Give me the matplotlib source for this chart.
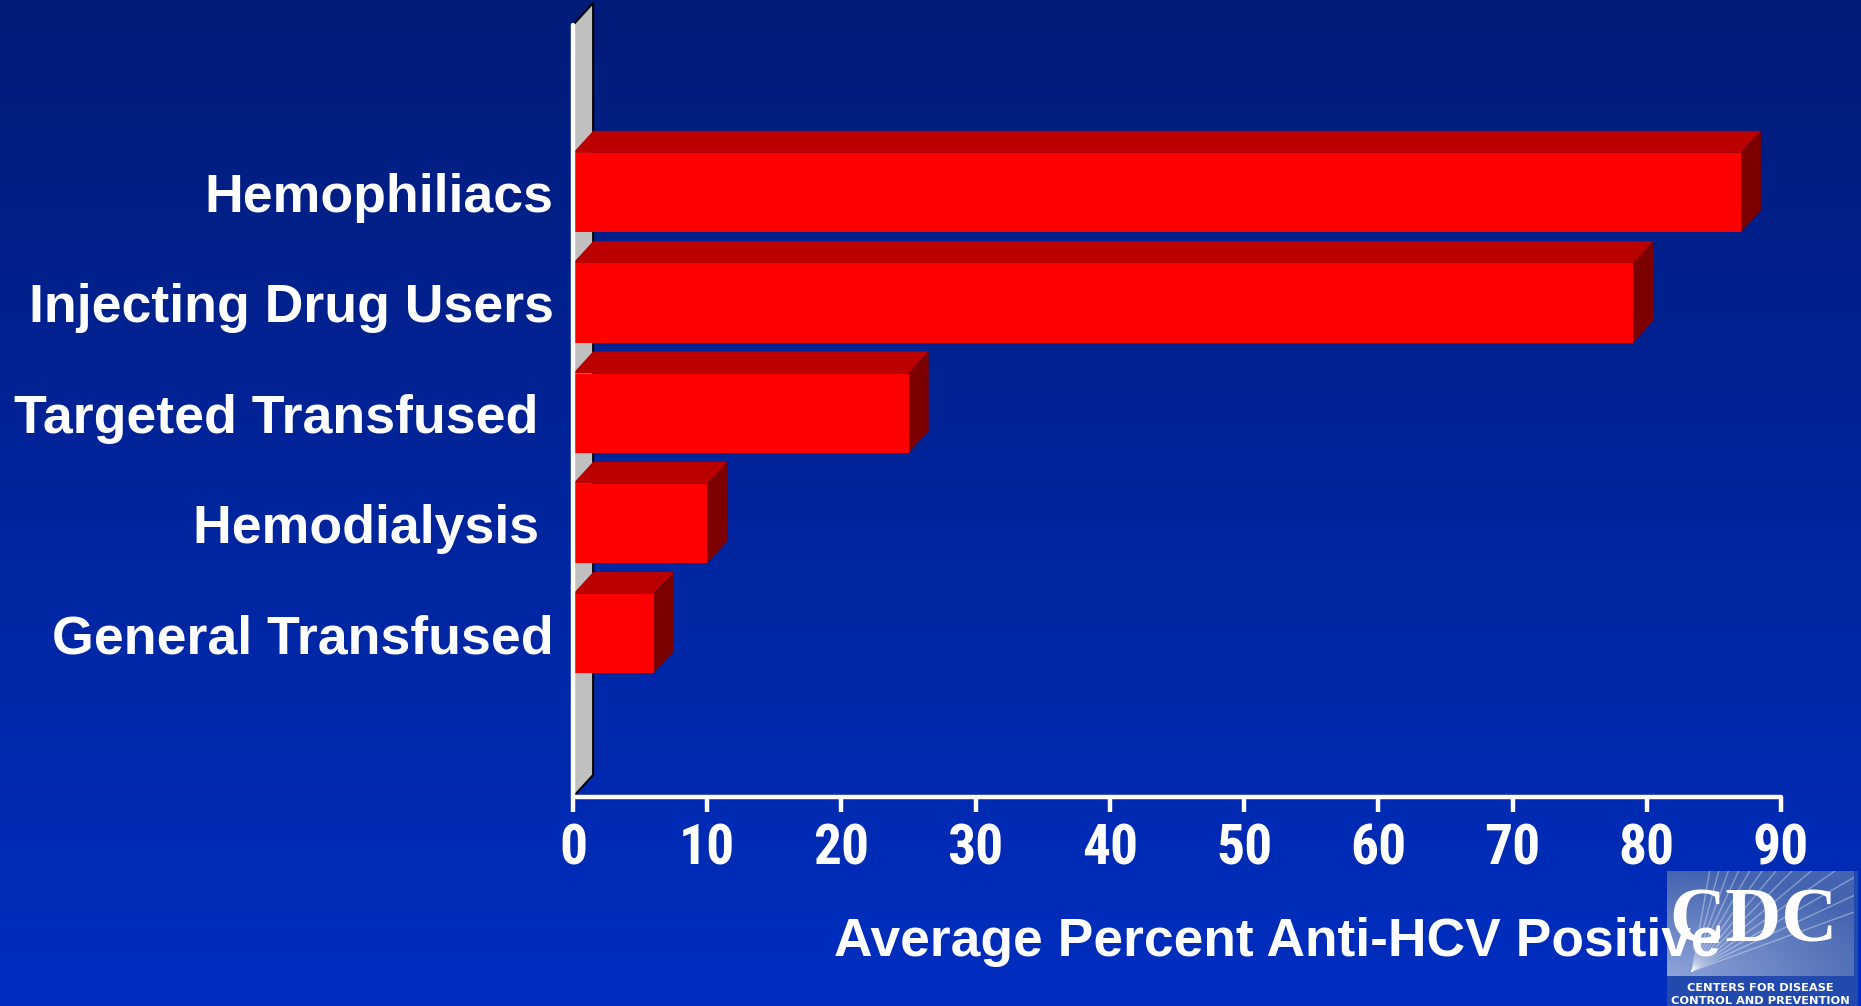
import numpy as np
import matplotlib
matplotlib.use("Agg")
import matplotlib.pyplot as plt
from matplotlib.patches import Polygon, Rectangle
from matplotlib.colors import LinearSegmentedColormap

# Anti-HCV prevalence by group
grupos = ["Hemophiliacs", "Injecting Drug Users", "Targeted Transfused ",
          "Hemodialysis ", "General Transfused"]
valores = [87, 79, 25, 10, 6]
ticks_x = [0, 10, 20, 30, 40, 50, 60, 70, 80, 90]
titulo_x = "Average Percent Anti-HCV Positive"

W, H = 1861, 1006
fig = plt.figure(figsize=(W / 100, H / 100), dpi=100)

# fundo em degradê azul
bg = fig.add_axes([0, 0, 1, 1], zorder=0)
grad = np.linspace(0, 1, 256).reshape(-1, 1)
cmap_bg = LinearSegmentedColormap.from_list("fundo", ["#001b78", "#002ec0"])
bg.imshow(grad, aspect="auto", cmap=cmap_bg, extent=[0, 1, 0, 1], origin="upper")
bg.set_axis_off()

# eixo principal
x0, x1 = 573, 1781
y_top, y_bot = 25, 797
ax = fig.add_axes([x0 / W, 1 - y_bot / H, (x1 - x0) / W, (y_bot - y_top) / H], zorder=2)
ax.patch.set_alpha(0)
ax.set_xlim(0, 90)
ax.set_ylim(5.48, -1.52)

dx, dy = 1.5, 0.2     # profundidade 3D
alt = 0.72
pos = np.arange(len(grupos))

# parede lateral cinza
yb, yt = ax.get_ylim()
parede = Polygon([(0, yb), (0, yt), (dx, yt - dy), (dx, yb - dy)], closed=True,
                 facecolor="#c0c0c0", edgecolor="none", zorder=1, clip_on=False)
ax.add_patch(parede)
ax.plot([0, dx, dx, 0], [yt, yt - dy, yb - dy, yb], color="black", lw=1.5,
        zorder=1.1, clip_on=False)

# barras com topo e lateral
ax.barh(pos, valores, height=alt, color="#ff0000", edgecolor="none", zorder=3)
for y, v in zip(pos, valores):
    topo = y - alt / 2
    base = y + alt / 2
    ax.add_patch(Polygon([(0, topo), (v, topo), (v + dx, topo - dy), (dx, topo - dy)],
                         facecolor="#bb0000", edgecolor="none", zorder=2.5, clip_on=False))
    ax.add_patch(Polygon([(v, topo), (v + dx, topo - dy), (v + dx, base - dy), (v, base)],
                         facecolor="#7c0000", edgecolor="none", zorder=2.5, clip_on=False))

# eixos e rótulos
for s in ["top", "right"]:
    ax.spines[s].set_visible(False)
for s in ["left", "bottom"]:
    ax.spines[s].set_color("white")
    ax.spines[s].set_linewidth(3.2)
    ax.spines[s].set_capstyle("round")
    ax.spines[s].set_zorder(4)

ax.set_yticks(pos)
ax.set_yticklabels(grupos, color="white", fontsize=38.6, fontweight="bold",
                   family=["Liberation Sans", "DejaVu Sans"])
ax.tick_params(axis="y", length=0, pad=14)

ax.set_xticks(ticks_x)
ax.set_xticklabels([str(t) for t in ticks_x], color="white", fontsize=40,
                   fontweight="bold",
                   family=["Liberation Sans Narrow", "Roboto Condensed", "Liberation Sans"])
ax.tick_params(axis="x", length=11, width=3.2, color="white", pad=8)

ax.set_xlabel(titulo_x, color="white", fontsize=38.4, fontweight="bold",
              family=["Liberation Sans", "DejaVu Sans"], va="center")
ax.xaxis.set_label_coords((1277 - x0) / (x1 - x0), -(942 - y_bot) / (y_bot - y_top))

# logotipo CDC no canto
lx0, ly0 = 1667, 871
lw_, lh_ = 1858 - lx0, H - ly0
logo = fig.add_axes([lx0 / W, 0, lw_ / W, lh_ / H], zorder=1)
logo.set_xlim(0, lw_)
logo.set_ylim(0, lh_)
logo.set_axis_off()
logo.add_patch(Rectangle((0, 0), lw_, lh_, facecolor="#2149ae", edgecolor="none"))
gx = np.linspace(0, 1, 120)
gy = np.linspace(0, 1, 80)
GX, GY = np.meshgrid(gx, gy)
brilho = np.clip(1 - np.hypot(GX * 0.8, GY * 1.0), 0, 1)
cmap_logo = LinearSegmentedColormap.from_list("logo", ["#4464b0", "#8ea3d8"])
logo.imshow(brilho, cmap=cmap_logo, extent=[0, lw_ - 4, 30, lh_], origin="lower",
            aspect="auto", zorder=1)
ox, oy = 25, 35
for ang in np.linspace(20, 80, 13):
    r = np.radians(ang)
    logo.plot([ox, ox + 300 * np.cos(r)], [oy, oy + 300 * np.sin(r)],
              color="white", alpha=0.35, lw=1, zorder=2)
logo.add_patch(Rectangle((0, 0), lw_, 30, facecolor="#2149ae", edgecolor="none", zorder=3))
logo.add_patch(Rectangle((lw_ - 4, 0), 4, lh_, facecolor="#2149ae", edgecolor="none", zorder=3))
logo.text(86, 83, "CDC", color="white", fontsize=56, fontweight="bold",
          family=["Liberation Serif", "DejaVu Serif"],
          ha="center", va="center", zorder=4)
logo.text(93, 18, "CENTERS FOR DISEASE", color="white", fontsize=8.2, fontweight="bold",
          family="DejaVu Sans", ha="center", va="center", zorder=4)
logo.text(93, 5, "CONTROL AND PREVENTION", color="white", fontsize=8.2, fontweight="bold",
          family="DejaVu Sans", ha="center", va="center", zorder=4)

fig.savefig("out.png", dpi=100)
